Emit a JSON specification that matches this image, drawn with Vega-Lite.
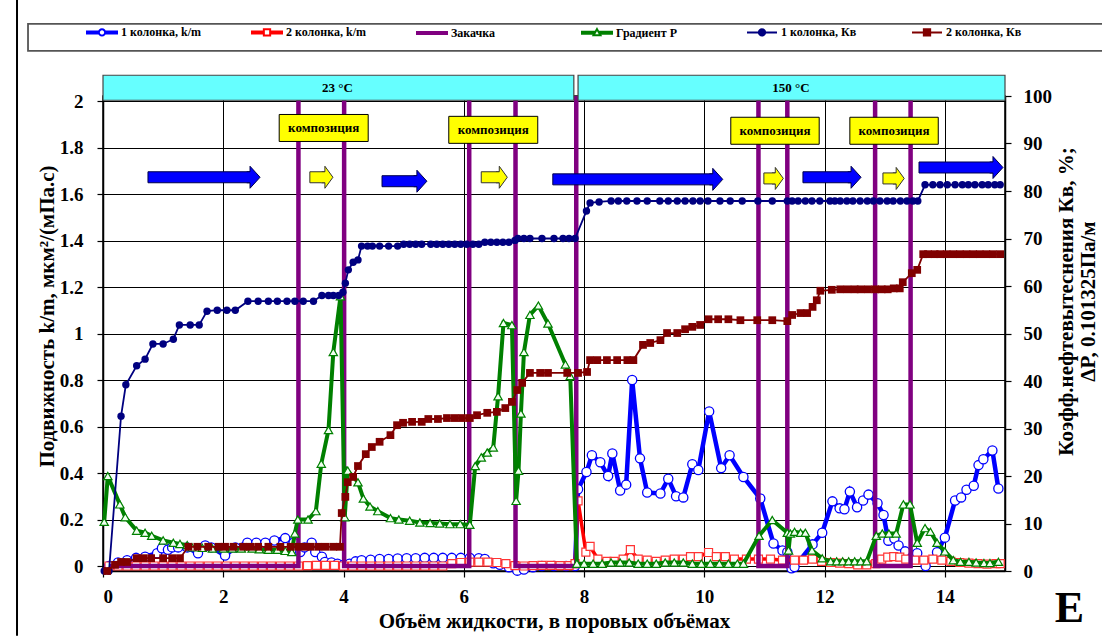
{
"$schema": "https://vega.github.io/schema/vega-lite/v6.json",
"width": 902, "height": 475,
"autosize": {"type": "none"},
"padding": {"left": 103, "top": 96, "right": 97, "bottom": 67},
"background": "white",
"config": {
  "font": "Liberation Serif",
  "view": {"stroke": "#000", "strokeWidth": 1.5},
  "axis": {"labelFont": "Liberation Serif", "labelFontSize": 19, "labelFontWeight": "bold", "labelColor": "#000",
    "titleFont": "Liberation Serif", "titleFontSize": 21, "titleFontWeight": "bold", "titleColor": "#000",
    "domainColor": "#000", "domainWidth": 1.5, "tickColor": "#000", "tickSize": 6, "tickWidth": 1.2,
    "gridColor": "#000", "gridWidth": 1, "gridOpacity": 1}
},
"datasets": {
"km1": [{"x":0.1,"v":0},{"x":0.25,"v":0.015},{"x":0.4,"v":0.025},{"x":0.55,"v":0.035},{"x":0.7,"v":0.04},{"x":0.9,"v":0.055},{"x":0.98,"v":0.076},{"x":1.08,"v":0.07},{"x":1.15,"v":0.08},{"x":1.25,"v":0.08},{"x":1.4,"v":0.08},{"x":1.58,"v":0.055},{"x":1.7,"v":0.088},{"x":1.8,"v":0.08},{"x":2.03,"v":0.045},{"x":2.2,"v":0.08},{"x":2.4,"v":0.1},{"x":2.55,"v":0.1},{"x":2.7,"v":0.1},{"x":2.85,"v":0.11},{"x":3.03,"v":0.12},{"x":3.17,"v":0.1},{"x":3.28,"v":0.06},{"x":3.35,"v":0.08},{"x":3.47,"v":0.1},{"x":3.53,"v":0.06},{"x":3.64,"v":0.04},{"x":3.69,"v":0.017},{"x":3.8,"v":0.015},{"x":3.9,"v":0.01},{"x":4.0,"v":0.005},{"x":4.1,"v":0.01},{"x":4.2,"v":0.02},{"x":4.3,"v":0.025},{"x":4.45,"v":0.027},{"x":4.6,"v":0.03},{"x":4.75,"v":0.03},{"x":4.9,"v":0.032},{"x":5.05,"v":0.033},{"x":5.2,"v":0.033},{"x":5.35,"v":0.035},{"x":5.5,"v":0.035},{"x":5.65,"v":0.035},{"x":5.8,"v":0.035},{"x":5.95,"v":0.035},{"x":6.1,"v":0.035},{"x":6.25,"v":0.033},{"x":6.35,"v":0.03},{"x":6.49,"v":0.012},{"x":6.6,"v":0.005},{"x":6.75,"v":-0.005},{"x":6.89,"v":-0.02},{"x":7.0,"v":-0.015},{"x":7.15,"v":-0.005},{"x":7.3,"v":0},{"x":7.5,"v":0},{"x":7.7,"v":0},{"x":7.85,"v":0},{"x":7.9,"v":0.33},{"x":8.04,"v":0.404},{"x":8.13,"v":0.476},{"x":8.27,"v":0.446},{"x":8.4,"v":0.387},{"x":8.47,"v":0.484},{"x":8.6,"v":0.325},{"x":8.7,"v":0.35},{"x":8.8,"v":0.8},{"x":8.93,"v":0.463},{"x":9.05,"v":0.316},{"x":9.27,"v":0.312},{"x":9.4,"v":0.375},{"x":9.53,"v":0.3},{"x":9.65,"v":0.295},{"x":9.8,"v":0.438},{"x":9.9,"v":0.413},{"x":10.08,"v":0.665},{"x":10.28,"v":0.421},{"x":10.42,"v":0.476},{"x":10.65,"v":0.383},{"x":10.93,"v":0.29},{"x":11.15,"v":0.097},{"x":11.3,"v":0.067},{"x":11.38,"v":0.06},{"x":11.45,"v":-0.01},{"x":11.5,"v":-0.004},{"x":11.8,"v":0.093},{"x":11.96,"v":0.143},{"x":12.13,"v":0.278},{"x":12.25,"v":0.248},{"x":12.33,"v":0.244},{"x":12.42,"v":0.32},{"x":12.54,"v":0.253},{"x":12.64,"v":0.282},{"x":12.73,"v":0.307},{"x":12.88,"v":0.27},{"x":12.98,"v":0.219},{"x":13.06,"v":0.109},{"x":13.16,"v":0.118},{"x":13.23,"v":0.088},{"x":13.34,"v":0.063},{"x":13.54,"v":0.055},{"x":13.68,"v":0},{"x":13.87,"v":0.059},{"x":14.0,"v":0.122},{"x":14.17,"v":0.282},{"x":14.27,"v":0.295},{"x":14.36,"v":0.328},{"x":14.48,"v":0.345},{"x":14.56,"v":0.434},{"x":14.64,"v":0.459},{"x":14.79,"v":0.497},{"x":14.89,"v":0.333}],
"km2": [{"x":0.1,"v":0},{"x":0.25,"v":0},{"x":0.4,"v":0},{"x":0.55,"v":0},{"x":0.7,"v":0},{"x":0.85,"v":0},{"x":1.0,"v":0},{"x":1.15,"v":0},{"x":1.3,"v":0},{"x":1.45,"v":0},{"x":1.6,"v":0},{"x":1.75,"v":0},{"x":1.9,"v":0},{"x":2.05,"v":0},{"x":2.2,"v":0},{"x":2.35,"v":0},{"x":2.5,"v":0},{"x":2.65,"v":0},{"x":2.8,"v":0},{"x":2.95,"v":0},{"x":3.1,"v":0},{"x":3.25,"v":0},{"x":3.4,"v":0.002},{"x":3.55,"v":0.003},{"x":3.7,"v":0.003},{"x":3.85,"v":0.003},{"x":4.0,"v":0},{"x":4.15,"v":0},{"x":4.3,"v":0},{"x":4.45,"v":0},{"x":4.6,"v":0},{"x":4.75,"v":0},{"x":4.9,"v":0},{"x":5.05,"v":0},{"x":5.2,"v":0},{"x":5.35,"v":0},{"x":5.5,"v":0},{"x":5.65,"v":0},{"x":5.8,"v":0.01},{"x":5.95,"v":0.015},{"x":6.1,"v":0.017},{"x":6.25,"v":0.017},{"x":6.4,"v":0.017},{"x":6.55,"v":0.015},{"x":6.7,"v":0.01},{"x":6.85,"v":0.002},{"x":7.0,"v":0},{"x":7.15,"v":0.002},{"x":7.3,"v":0.003},{"x":7.45,"v":0.003},{"x":7.6,"v":0.002},{"x":7.75,"v":0.002},{"x":7.85,"v":0.01},{"x":7.9,"v":0.28},{"x":8.03,"v":0.06},{"x":8.1,"v":0.084},{"x":8.23,"v":0.03},{"x":8.38,"v":0.02},{"x":8.5,"v":0.02},{"x":8.65,"v":0.03},{"x":8.77,"v":0.07},{"x":8.9,"v":0.03},{"x":9.05,"v":0.025},{"x":9.2,"v":0.02},{"x":9.35,"v":0.025},{"x":9.5,"v":0.03},{"x":9.65,"v":0.03},{"x":9.77,"v":0.04},{"x":9.9,"v":0.04},{"x":10.07,"v":0.058},{"x":10.2,"v":0.04},{"x":10.35,"v":0.04},{"x":10.5,"v":0.03},{"x":10.7,"v":0.03},{"x":10.9,"v":0.03},{"x":11.1,"v":0.03},{"x":11.3,"v":0.025},{"x":11.5,"v":0.025},{"x":11.65,"v":0.025},{"x":11.8,"v":0.03},{"x":11.95,"v":0.02},{"x":12.1,"v":0.015},{"x":12.25,"v":0.012},{"x":12.4,"v":0.01},{"x":12.55,"v":0.005},{"x":12.7,"v":0.005},{"x":12.85,"v":0.01},{"x":12.95,"v":0.03},{"x":13.05,"v":0.038},{"x":13.15,"v":0.04},{"x":13.25,"v":0.038},{"x":13.35,"v":0.03},{"x":13.5,"v":0.025},{"x":13.65,"v":0.025},{"x":13.8,"v":0.03},{"x":13.95,"v":0.025},{"x":14.1,"v":0.02},{"x":14.25,"v":0.015},{"x":14.4,"v":0.012},{"x":14.55,"v":0.01},{"x":14.7,"v":0.008},{"x":14.85,"v":0.01},{"x":14.92,"v":0.01}],
"zak": [{"x":0.1,"v":0},{"x":3.25,"v":0},{"x":3.25,"v":2.5},{"x":4.01,"v":2.5},{"x":4.01,"v":0},{"x":6.09,"v":0},{"x":6.09,"v":2.5},{"x":6.86,"v":2.5},{"x":6.86,"v":0},{"x":7.87,"v":0},{"x":7.87,"v":2.5},{"x":10.9,"v":2.5},{"x":10.9,"v":0},{"x":11.38,"v":0},{"x":11.38,"v":2.5},{"x":12.84,"v":2.5},{"x":12.84,"v":0},{"x":13.43,"v":0},{"x":13.43,"v":2.5},{"x":15.5,"v":2.5}],
"grad": [{"x":0.02,"v":0.19},{"x":0.08,"v":0.387},{"x":0.28,"v":0.265},{"x":0.37,"v":0.21},{"x":0.56,"v":0.152},{"x":0.7,"v":0.143},{"x":0.81,"v":0.13},{"x":1.0,"v":0.11},{"x":1.17,"v":0.1},{"x":1.28,"v":0.095},{"x":1.4,"v":0.09},{"x":1.48,"v":0.08},{"x":1.65,"v":0.078},{"x":1.82,"v":0.075},{"x":2.0,"v":0.075},{"x":2.15,"v":0.075},{"x":2.3,"v":0.075},{"x":2.48,"v":0.075},{"x":2.6,"v":0.072},{"x":2.75,"v":0.07},{"x":2.9,"v":0.07},{"x":3.03,"v":0.065},{"x":3.14,"v":0.06},{"x":3.19,"v":0.14},{"x":3.24,"v":0.2},{"x":3.41,"v":0.2},{"x":3.54,"v":0.236},{"x":3.63,"v":0.44},{"x":3.75,"v":0.585},{"x":3.83,"v":0.92},{"x":3.95,"v":1.16},{"x":4.02,"v":0.21},{"x":4.07,"v":0.41},{"x":4.24,"v":0.36},{"x":4.33,"v":0.29},{"x":4.44,"v":0.256},{"x":4.57,"v":0.236},{"x":4.78,"v":0.206},{"x":4.92,"v":0.2},{"x":5.1,"v":0.195},{"x":5.27,"v":0.187},{"x":5.44,"v":0.185},{"x":5.6,"v":0.183},{"x":5.77,"v":0.18},{"x":5.94,"v":0.18},{"x":6.1,"v":0.177},{"x":6.19,"v":0.43},{"x":6.29,"v":0.467},{"x":6.39,"v":0.488},{"x":6.49,"v":0.51},{"x":6.57,"v":0.73},{"x":6.66,"v":1.045},{"x":6.8,"v":1.036},{"x":6.87,"v":0.28},{"x":6.91,"v":0.41},{"x":6.95,"v":0.656},{"x":7.0,"v":0.92},{"x":7.1,"v":1.08},{"x":7.24,"v":1.12},{"x":7.4,"v":1.043},{"x":7.69,"v":0.867},{"x":7.77,"v":0.817},{"x":7.88,"v":0.01},{"x":8.0,"v":0.01},{"x":8.15,"v":0.01},{"x":8.3,"v":0.01},{"x":8.45,"v":0.015},{"x":8.6,"v":0.015},{"x":8.75,"v":0.015},{"x":8.9,"v":0.01},{"x":9.05,"v":0.01},{"x":9.2,"v":0.01},{"x":9.35,"v":0.015},{"x":9.5,"v":0.015},{"x":9.65,"v":0.015},{"x":9.8,"v":0.01},{"x":9.95,"v":0.01},{"x":10.1,"v":0.01},{"x":10.25,"v":0.01},{"x":10.4,"v":0.01},{"x":10.55,"v":0.01},{"x":10.65,"v":0.01},{"x":10.91,"v":0.13},{"x":11.13,"v":0.198},{"x":11.38,"v":0.143},{"x":11.4,"v":0.067},{"x":11.43,"v":0.14},{"x":11.5,"v":0.147},{"x":11.6,"v":0.143},{"x":11.68,"v":0.143},{"x":11.79,"v":0.067},{"x":11.96,"v":0.033},{"x":12.1,"v":0.02},{"x":12.2,"v":0.02},{"x":12.3,"v":0.02},{"x":12.4,"v":0.02},{"x":12.5,"v":0.02},{"x":12.6,"v":0.02},{"x":12.7,"v":0.02},{"x":12.86,"v":0.13},{"x":12.96,"v":0.14},{"x":13.07,"v":0.14},{"x":13.19,"v":0.14},{"x":13.31,"v":0.265},{"x":13.42,"v":0.265},{"x":13.54,"v":0.1},{"x":13.67,"v":0.163},{"x":13.76,"v":0.147},{"x":13.87,"v":0.1},{"x":14.0,"v":0.063},{"x":14.14,"v":0.025},{"x":14.26,"v":0.018},{"x":14.4,"v":0.018},{"x":14.52,"v":0.015},{"x":14.65,"v":0.013},{"x":14.75,"v":0.013},{"x":14.89,"v":0.018}],
"kv1": [{"x":0.02,"v":0},{"x":0.1,"v":0},{"x":0.3,"v":32.6},{"x":0.38,"v":39.2},{"x":0.56,"v":43.2},{"x":0.7,"v":44.6},{"x":0.83,"v":47.8},{"x":1.0,"v":47.8},{"x":1.17,"v":48.8},{"x":1.27,"v":51.8},{"x":1.45,"v":51.8},{"x":1.6,"v":51.8},{"x":1.73,"v":54.7},{"x":1.9,"v":54.9},{"x":2.06,"v":54.9},{"x":2.2,"v":54.9},{"x":2.41,"v":56.8},{"x":2.58,"v":56.8},{"x":2.75,"v":56.8},{"x":2.9,"v":56.8},{"x":3.06,"v":56.8},{"x":3.19,"v":56.8},{"x":3.33,"v":56.8},{"x":3.5,"v":56.8},{"x":3.64,"v":58},{"x":3.75,"v":58},{"x":3.83,"v":58},{"x":3.92,"v":58},{"x":3.99,"v":58.7},{"x":4.03,"v":60.6},{"x":4.08,"v":63.4},{"x":4.16,"v":65},{"x":4.24,"v":65.5},{"x":4.3,"v":68.4},{"x":4.4,"v":68.4},{"x":4.48,"v":68.4},{"x":4.6,"v":68.4},{"x":4.75,"v":68.4},{"x":4.9,"v":68.4},{"x":5.0,"v":68.8},{"x":5.1,"v":68.8},{"x":5.2,"v":68.8},{"x":5.3,"v":68.8},{"x":5.45,"v":68.8},{"x":5.55,"v":68.8},{"x":5.65,"v":68.8},{"x":5.75,"v":68.8},{"x":5.85,"v":68.8},{"x":5.95,"v":68.8},{"x":6.05,"v":68.8},{"x":6.15,"v":68.8},{"x":6.25,"v":68.8},{"x":6.35,"v":69.2},{"x":6.45,"v":69.2},{"x":6.55,"v":69.2},{"x":6.65,"v":69.2},{"x":6.75,"v":69.2},{"x":6.85,"v":69.6},{"x":6.9,"v":70},{"x":7.0,"v":70},{"x":7.1,"v":70},{"x":7.3,"v":70},{"x":7.5,"v":70},{"x":7.65,"v":70},{"x":7.75,"v":70},{"x":7.85,"v":70},{"x":8.04,"v":75.8},{"x":8.1,"v":77.5},{"x":8.25,"v":77.7},{"x":8.45,"v":77.9},{"x":8.57,"v":77.9},{"x":8.71,"v":77.9},{"x":8.88,"v":77.9},{"x":9.05,"v":77.9},{"x":9.26,"v":77.9},{"x":9.4,"v":77.9},{"x":9.55,"v":77.9},{"x":9.68,"v":77.9},{"x":9.81,"v":77.9},{"x":9.93,"v":77.9},{"x":10.06,"v":77.9},{"x":10.26,"v":77.9},{"x":10.43,"v":77.9},{"x":10.63,"v":77.9},{"x":10.89,"v":77.9},{"x":11.13,"v":77.9},{"x":11.38,"v":77.9},{"x":11.46,"v":77.9},{"x":11.56,"v":77.9},{"x":11.68,"v":77.9},{"x":11.79,"v":77.9},{"x":11.92,"v":77.9},{"x":12.09,"v":77.9},{"x":12.17,"v":77.9},{"x":12.26,"v":77.9},{"x":12.37,"v":77.9},{"x":12.47,"v":77.9},{"x":12.59,"v":77.9},{"x":12.71,"v":77.9},{"x":12.81,"v":77.9},{"x":12.92,"v":77.9},{"x":13.04,"v":77.9},{"x":13.14,"v":77.9},{"x":13.26,"v":77.9},{"x":13.37,"v":77.9},{"x":13.47,"v":77.9},{"x":13.55,"v":77.9},{"x":13.67,"v":81.3},{"x":13.8,"v":81.3},{"x":13.92,"v":81.3},{"x":14.04,"v":81.3},{"x":14.17,"v":81.3},{"x":14.29,"v":81.3},{"x":14.39,"v":81.3},{"x":14.5,"v":81.3},{"x":14.62,"v":81.3},{"x":14.72,"v":81.3},{"x":14.83,"v":81.3},{"x":14.92,"v":81.3}],
"kv2": [{"x":0.07,"v":0},{"x":0.2,"v":1.3},{"x":0.3,"v":1.9},{"x":0.4,"v":1.9},{"x":0.56,"v":2.7},{"x":0.67,"v":2.7},{"x":0.8,"v":2.7},{"x":1.0,"v":2.7},{"x":1.15,"v":2.7},{"x":1.28,"v":2.7},{"x":1.42,"v":5.1},{"x":1.57,"v":5.1},{"x":1.75,"v":5.1},{"x":1.92,"v":5.1},{"x":2.03,"v":5.1},{"x":2.17,"v":5.1},{"x":2.33,"v":5.1},{"x":2.45,"v":5.1},{"x":2.58,"v":5.1},{"x":2.75,"v":5.1},{"x":2.95,"v":5.1},{"x":3.12,"v":5.1},{"x":3.25,"v":5.1},{"x":3.37,"v":5.1},{"x":3.45,"v":5.1},{"x":3.58,"v":5.1},{"x":3.7,"v":5.1},{"x":3.83,"v":5.1},{"x":3.94,"v":5.1},{"x":3.97,"v":12.2},{"x":4.03,"v":15.6},{"x":4.07,"v":18.7},{"x":4.16,"v":19.8},{"x":4.24,"v":22.1},{"x":4.37,"v":24.6},{"x":4.47,"v":26.1},{"x":4.6,"v":27.2},{"x":4.78,"v":28.6},{"x":4.89,"v":30.7},{"x":4.99,"v":31.2},{"x":5.14,"v":31.4},{"x":5.3,"v":31.4},{"x":5.41,"v":32.0},{"x":5.57,"v":32.0},{"x":5.72,"v":32.2},{"x":5.85,"v":32.2},{"x":5.97,"v":32.2},{"x":6.1,"v":32.2},{"x":6.22,"v":32.8},{"x":6.39,"v":33.3},{"x":6.55,"v":33.5},{"x":6.69,"v":34.3},{"x":6.8,"v":35.6},{"x":6.89,"v":38.1},{"x":6.97,"v":39.6},{"x":7.1,"v":41.7},{"x":7.27,"v":41.7},{"x":7.4,"v":41.7},{"x":7.72,"v":41.7},{"x":7.9,"v":41.7},{"x":8.05,"v":41.9},{"x":8.1,"v":44.4},{"x":8.22,"v":44.4},{"x":8.38,"v":44.4},{"x":8.55,"v":44.4},{"x":8.72,"v":44.4},{"x":8.82,"v":44.4},{"x":8.98,"v":47.6},{"x":9.1,"v":48.0},{"x":9.27,"v":48.6},{"x":9.38,"v":50.1},{"x":9.55,"v":50.1},{"x":9.68,"v":50.9},{"x":9.8,"v":51.4},{"x":9.93,"v":51.8},{"x":10.07,"v":53.0},{"x":10.23,"v":53.0},{"x":10.4,"v":53.0},{"x":10.6,"v":52.8},{"x":10.88,"v":52.8},{"x":11.13,"v":52.8},{"x":11.38,"v":52.6},{"x":11.46,"v":53.9},{"x":11.6,"v":54.3},{"x":11.71,"v":54.3},{"x":11.8,"v":55.6},{"x":11.87,"v":57.0},{"x":11.93,"v":59.0},{"x":12.12,"v":59.2},{"x":12.26,"v":59.3},{"x":12.38,"v":59.3},{"x":12.5,"v":59.3},{"x":12.6,"v":59.3},{"x":12.72,"v":59.3},{"x":12.84,"v":59.3},{"x":12.95,"v":59.3},{"x":13.05,"v":59.3},{"x":13.15,"v":59.5},{"x":13.25,"v":59.5},{"x":13.3,"v":60.8},{"x":13.45,"v":62.7},{"x":13.54,"v":63.4},{"x":13.64,"v":66.7},{"x":13.72,"v":66.7},{"x":13.83,"v":66.7},{"x":13.92,"v":66.7},{"x":14.03,"v":66.7},{"x":14.14,"v":66.7},{"x":14.25,"v":66.7},{"x":14.36,"v":66.7},{"x":14.47,"v":66.7},{"x":14.58,"v":66.7},{"x":14.69,"v":66.7},{"x":14.8,"v":66.7},{"x":14.92,"v":66.7}],
"bands": [{"x1":0,"x2":7.83,"y":2.057,"xm":3.9,"t":"23 °C"},{"x1":7.9,"x2":15,"y":2.057,"xm":11.44,"t":"150 °C"}],
"boxes": [{"x1":2.93,"x2":4.41,"y":1.884,"xm":3.67,"t":"композиция"},{"x1":5.75,"x2":7.23,"y":1.876,"xm":6.49,"t":"композиция"},{"x1":10.44,"x2":11.91,"y":1.872,"xm":11.175,"t":"композиция"},{"x1":12.42,"x2":13.89,"y":1.872,"xm":13.155,"t":"композиция"}],
"barrows": [{"x1":0.748,"x2":2.445,"y":1.672},{"x1":4.64,"x2":5.22,"y":1.655},{"x1":7.48,"x2":10.14,"y":1.663},{"x1":11.64,"x2":12.44,"y":1.672},{"x1":13.57,"x2":14.8,"y":1.714}],
"yarrows": [{"x1":3.44,"x2":3.69,"y":1.672},{"x1":6.29,"x2":6.59,"y":1.672},{"x1":10.99,"x2":11.18,"y":1.667},{"x1":12.97,"x2":13.19,"y":1.667}],
"frame": [{"x":-1.43,"y1":-0.3,"y2":2.45}],
"lbox": [{"x1":-1.247,"x2":17,"y":2.2737}],
"note": [{"x":16.07,"y":-0.185,"t":"Е"}],
"leg": [{"s":"1 колонка, k/m"},{"s":"2 колонка, k/m"},{"s":"Закачка"},{"s":"Градиент Р"},{"s":"1 колонка, Кв"},{"s":"2 колонка, Кв"}]
},
"layer": [
{"layer": [
  {"data": {"name": "km1"},
   "encoding": {
     "x": {"field": "x", "type": "quantitative", "scale": {"domain": [0, 15], "nice": false},
       "axis": {"values": [0,2,4,6,8,10,12,14], "format": "d", "title": "Объём жидкости, в поровых объёмах", "grid": true, "labelPadding": 10, "titlePadding": 4}},
     "y": {"field": "v", "type": "quantitative", "scale": {"domain": [0, 2], "nice": false},
       "axis": {"values": [0,0.2,0.4,0.6,0.8,1,1.2,1.4,1.6,1.8,2], "format": ".1~f", "title": "Подвижность k/m, мкм²/(мПа.с)", "grid": true, "labelPadding": 14, "titlePadding": 2, "titleY": 220}}},
   "layer": [
     {"mark": {"type": "line", "color": "#0000FF", "strokeWidth": 4.5}},
     {"mark": {"type": "point", "shape": "circle", "size": 85, "filled": true, "fill": "white", "stroke": "#0000FF", "strokeWidth": 1.3, "opacity": 1}}
   ]},
  {"data": {"name": "km2"},
   "encoding": {
     "x": {"field": "x", "type": "quantitative", "scale": {"domain": [0, 15], "nice": false}},
     "y": {"field": "v", "type": "quantitative", "scale": {"domain": [0, 2], "nice": false}}},
   "layer": [
     {"mark": {"type": "line", "color": "#FF0000", "strokeWidth": 3.5}},
     {"mark": {"type": "point", "shape": "square", "size": 64, "filled": true, "fill": "white", "stroke": "#FF3333", "strokeWidth": 1.2, "opacity": 1}}
   ]},
  {"data": {"name": "zak"},
   "mark": {"type": "line", "color": "#800080", "strokeWidth": 4.5, "clip": true},
   "encoding": {
     "x": {"field": "x", "type": "quantitative", "scale": {"domain": [0, 15], "nice": false}},
     "y": {"field": "v", "type": "quantitative", "scale": {"domain": [0, 2], "nice": false}},
     "order": {"value": null}}},
  {"data": {"name": "grad"},
   "encoding": {
     "x": {"field": "x", "type": "quantitative", "scale": {"domain": [0, 15], "nice": false}},
     "y": {"field": "v", "type": "quantitative", "scale": {"domain": [0, 2], "nice": false}}},
   "layer": [
     {"mark": {"type": "line", "color": "#008000", "strokeWidth": 4}},
     {"mark": {"type": "point", "shape": "triangle-up", "size": 70, "filled": true, "fill": "#F0FFF0", "stroke": "#008000", "strokeWidth": 1.2, "opacity": 1}}
   ]},
  {"data": {"name": "bands"},
   "encoding": {
     "y": {"field": "y", "type": "quantitative", "scale": {"domain": [0, 2], "nice": false}}},
   "layer": [
     {"mark": {"type": "bar", "orient": "horizontal", "height": 25, "fill": "#66FFFF", "stroke": "#444", "strokeWidth": 1.2, "clip": false},
      "encoding": {"x": {"field": "x1", "type": "quantitative", "scale": {"domain": [0, 15], "nice": false}}, "x2": {"field": "x2"}}},
     {"mark": {"type": "text", "font": "Liberation Serif", "fontWeight": "bold", "fontSize": 13, "color": "#000", "baseline": "middle", "align": "center", "clip": false},
      "encoding": {"x": {"field": "xm", "type": "quantitative", "scale": {"domain": [0, 15], "nice": false}}, "text": {"field": "t"}}}
   ]},
  {"data": {"name": "boxes"},
   "encoding": {
     "y": {"field": "y", "type": "quantitative", "scale": {"domain": [0, 2], "nice": false}}},
   "layer": [
     {"mark": {"type": "bar", "orient": "horizontal", "height": 27, "fill": "#FFFF00", "stroke": "#000", "strokeWidth": 1, "clip": false},
      "encoding": {"x": {"field": "x1", "type": "quantitative", "scale": {"domain": [0, 15], "nice": false}}, "x2": {"field": "x2"}}},
     {"mark": {"type": "text", "font": "Liberation Serif", "fontWeight": "bold", "fontSize": 13, "color": "#000", "baseline": "middle", "align": "center", "clip": false},
      "encoding": {"x": {"field": "xm", "type": "quantitative", "scale": {"domain": [0, 15], "nice": false}}, "text": {"field": "t"}}}
   ]},
  {"data": {"name": "barrows"},
   "encoding": {
     "y": {"field": "y", "type": "quantitative", "scale": {"domain": [0, 2], "nice": false}}},
   "layer": [
     {"mark": {"type": "bar", "orient": "horizontal", "height": 11, "fill": "#0000FF", "stroke": "#00004A", "strokeWidth": 1, "clip": false},
      "encoding": {"x": {"field": "x1", "type": "quantitative", "scale": {"domain": [0, 15], "nice": false}}, "x2": {"field": "x2"}}},
     {"mark": {"type": "point", "shape": "M-0.3,-0.5L0,-0.5L0,-1L0.91,0L0,1L0,0.5L-0.3,0.5", "size": 484, "filled": true, "fill": "#0000FF", "stroke": "#00004A", "strokeWidth": 1, "opacity": 1, "clip": false},
      "encoding": {"x": {"field": "x2", "type": "quantitative", "scale": {"domain": [0, 15], "nice": false}}}}
   ]},
  {"data": {"name": "yarrows"},
   "encoding": {
     "y": {"field": "y", "type": "quantitative", "scale": {"domain": [0, 2], "nice": false}}},
   "layer": [
     {"mark": {"type": "bar", "orient": "horizontal", "height": 11, "fill": "#FFFF00", "stroke": "#333", "strokeWidth": 1, "clip": false},
      "encoding": {"x": {"field": "x1", "type": "quantitative", "scale": {"domain": [0, 15], "nice": false}}, "x2": {"field": "x2"}}},
     {"mark": {"type": "point", "shape": "M-0.3,-0.5L0,-0.5L0,-1L0.73,0L0,1L0,0.5L-0.3,0.5", "size": 484, "filled": true, "fill": "#FFFF00", "stroke": "#333", "strokeWidth": 1, "opacity": 1, "clip": false},
      "encoding": {"x": {"field": "x2", "type": "quantitative", "scale": {"domain": [0, 15], "nice": false}}}}
   ]},
  {"data": {"name": "lbox"},
   "mark": {"type": "bar", "orient": "horizontal", "height": 27, "fill": "white", "stroke": "#555", "strokeWidth": 1.8, "clip": false},
   "encoding": {
     "x": {"field": "x1", "type": "quantitative", "scale": {"domain": [0, 15], "nice": false}}, "x2": {"field": "x2"},
     "y": {"field": "y", "type": "quantitative", "scale": {"domain": [0, 2], "nice": false}}}},
  {"data": {"name": "frame"},
   "mark": {"type": "rule", "color": "#000", "strokeWidth": 2, "clip": false},
   "encoding": {
     "x": {"field": "x", "type": "quantitative", "scale": {"domain": [0, 15], "nice": false}},
     "y": {"field": "y1", "type": "quantitative", "scale": {"domain": [0, 2], "nice": false}}, "y2": {"field": "y2"}}},
  {"data": {"name": "note"},
   "mark": {"type": "text", "font": "Liberation Serif", "fontWeight": "bold", "fontSize": 44, "color": "#000", "baseline": "middle", "align": "center", "clip": false},
   "encoding": {
     "x": {"field": "x", "type": "quantitative", "scale": {"domain": [0, 15], "nice": false}},
     "y": {"field": "y", "type": "quantitative", "scale": {"domain": [0, 2], "nice": false}},
     "text": {"field": "t"}}},
  {"data": {"name": "leg"},
   "mark": {"type": "point", "opacity": 0},
   "encoding": {
     "fill": {"field": "s", "type": "nominal",
       "scale": {"domain": ["1 колонка, k/m","2 колонка, k/m","Закачка","Градиент Р","1 колонка, Кв","2 колонка, Кв"], "range": ["white","white","#800080","#F0FFF0","#000080","#800000"]},
       "legend": {"title": null, "orient": "none", "legendX": -17, "legendY": -80, "direction": "horizontal", "columns": 6, "gridAlign": "all", "columnPadding": 47, "symbolSize": 900, "symbolStrokeWidth": 2, "symbolOpacity": 1, "labelFont": "Liberation Serif", "labelFontWeight": "bold", "labelFontSize": 12, "labelColor": "#000", "labelOffset": 3, "labelLimit": 0, "padding": 0}},
     "stroke": {"field": "s", "type": "nominal",
       "scale": {"domain": ["1 колонка, k/m","2 колонка, k/m","Закачка","Градиент Р","1 колонка, Кв","2 колонка, Кв"], "range": ["#0000FF","#FF0000","#800080","#008000","#000080","#800000"]},
       "legend": {"title": null, "orient": "none", "legendX": -17, "legendY": -80, "direction": "horizontal", "columns": 6, "gridAlign": "all", "columnPadding": 47, "symbolSize": 900, "symbolStrokeWidth": 2, "symbolOpacity": 1, "labelFont": "Liberation Serif", "labelFontWeight": "bold", "labelFontSize": 12, "labelColor": "#000", "labelOffset": 3, "labelLimit": 0, "padding": 0}},
     "shape": {"field": "s", "type": "nominal",
       "scale": {"domain": ["1 колонка, k/m","2 колонка, k/m","Закачка","Градиент Р","1 колонка, Кв","2 колонка, Кв"],
         "range": ["M-1,-0.0667H-0.21V0.0667H-1ZM0.21,-0.0667H1V0.0667H0.21ZM0.21,0A0.21,0.21,0,1,1,-0.21,0A0.21,0.21,0,1,1,0.21,0Z",
                   "M-1,-0.0667H-0.21V0.0667H-1ZM0.21,-0.0667H1V0.0667H0.21ZM-0.21,-0.21H0.21V0.21H-0.21Z",
                   "M-1,-0.0667H1V0.0667H-1Z",
                   "M-1,-0.0667H-0.21V0.0667H-1ZM0.21,-0.0667H1V0.0667H0.21ZM0,-0.24L0.23,0.17L-0.23,0.17Z",
                   "M-1,0H1M0.21,0A0.21,0.21,0,1,1,-0.21,0A0.21,0.21,0,1,1,0.21,0Z",
                   "M-1,0H1M-0.21,-0.21H0.21V0.21H-0.21Z"]},
       "legend": {"title": null, "orient": "none", "legendX": -17, "legendY": -80, "direction": "horizontal", "columns": 6, "gridAlign": "all", "columnPadding": 47, "symbolSize": 900, "symbolStrokeWidth": 2, "symbolOpacity": 1, "labelFont": "Liberation Serif", "labelFontWeight": "bold", "labelFontSize": 12, "labelColor": "#000", "labelOffset": 3, "labelLimit": 0, "padding": 0}}}}
]},
{"layer": [
  {"data": {"name": "kv1"},
   "encoding": {
     "x": {"field": "x", "type": "quantitative", "scale": {"domain": [0, 15], "nice": false}},
     "y": {"field": "v", "type": "quantitative", "scale": {"domain": [0, 100], "nice": false},
       "axis": {"orient": "right", "values": [0,10,20,30,40,50,60,70,80,90,100], "format": "d", "grid": false,
         "title": ["Коэфф.нефтевытеснения Кв, %;", "ΔP, 0.101325Па/м"], "titleAngle": 270, "titleBaseline": "top", "titleLineHeight": 22, "titleY": 205, "titlePadding": -18, "labelPadding": 12}}},
   "layer": [
     {"mark": {"type": "line", "color": "#000080", "strokeWidth": 1.8}},
     {"mark": {"type": "point", "shape": "circle", "size": 55, "filled": true, "color": "#000080", "opacity": 1}}
   ]},
  {"data": {"name": "kv2"},
   "encoding": {
     "x": {"field": "x", "type": "quantitative", "scale": {"domain": [0, 15], "nice": false}},
     "y": {"field": "v", "type": "quantitative", "scale": {"domain": [0, 100], "nice": false}}},
   "layer": [
     {"mark": {"type": "line", "color": "#800000", "strokeWidth": 1.8}},
     {"mark": {"type": "point", "shape": "square", "size": 60, "filled": true, "color": "#800000", "opacity": 1}}
   ]}
]}
],
"resolve": {"scale": {"y": "independent"}}
}
